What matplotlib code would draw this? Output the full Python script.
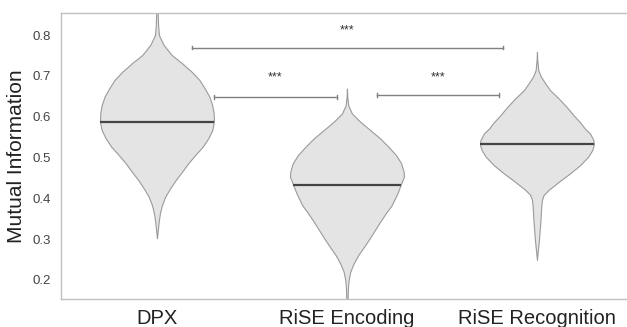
import numpy as np
import matplotlib
matplotlib.use('Agg')
from matplotlib import pyplot as plt

plt.rcParams['font.family'] = ['Liberation Sans', 'DejaVu Sans']

groups = ['DPX', 'RiSE Encoding', 'RiSE Recognition']
medians = [0.588, 0.432, 0.532]

# violin outlines: value, relative half-width
dpx_y = [0.90, 0.857, 0.825, 0.80, 0.776, 0.751, 0.731, 0.710, 0.690, 0.669, 0.649, 0.628, 0.608,
         0.588, 0.567, 0.547, 0.526, 0.506, 0.486, 0.465, 0.445, 0.424, 0.404, 0.383, 0.363,
         0.342, 0.322, 0.302]
dpx_w = [0.0, 0.012, 0.02, 0.035, 0.117, 0.26, 0.44, 0.61, 0.745, 0.84, 0.92, 0.97, 0.995,
         1.0, 0.97, 0.90, 0.80, 0.67, 0.55, 0.44, 0.33, 0.23, 0.145, 0.087, 0.052,
         0.03, 0.015, 0.0]

enc_y = [0.669, 0.649, 0.628, 0.608, 0.588, 0.567, 0.547, 0.526, 0.506, 0.486, 0.465, 0.453,
         0.432, 0.412, 0.383, 0.363, 0.342, 0.322, 0.302, 0.281, 0.261, 0.240, 0.220, 0.200,
         0.179, 0.155, 0.12]
enc_w = [0.0, 0.006, 0.023, 0.087, 0.23, 0.41, 0.58, 0.73, 0.86, 0.95, 0.995, 1.0,
         0.94, 0.885, 0.785, 0.68, 0.58, 0.49, 0.40, 0.30, 0.20, 0.117, 0.058, 0.03,
         0.017, 0.012, 0.0]

rec_y = [0.759, 0.739, 0.714, 0.698, 0.682, 0.665, 0.645, 0.624, 0.604, 0.584, 0.571, 0.559,
         0.543, 0.532, 0.518, 0.502, 0.481, 0.461, 0.440, 0.420, 0.408, 0.396, 0.379, 0.339,
         0.298, 0.273, 0.249]
rec_w = [0.0, 0.006, 0.023, 0.07, 0.145, 0.23, 0.38, 0.52, 0.64, 0.77, 0.84, 0.93,
         0.99, 1.0, 0.97, 0.90, 0.755, 0.58, 0.38, 0.20, 0.117, 0.087, 0.075, 0.058,
         0.035, 0.017, 0.0]

profiles = [(dpx_y, dpx_w), (enc_y, enc_w), (rec_y, rec_w)]

# significance brackets: (x start, x end, y, text y)
brackets = [(0.184, 1.821, 0.769, 0.812),
            (0.30, 0.947, 0.648, 0.695),
            (1.158, 1.80, 0.653, 0.695)]
stars = ['***', '***', '***']

fig = plt.figure(figsize=(6.27, 3.27), dpi=100)
ax = fig.add_axes([0.0973, 0.0856, 0.9027, 0.8744])

half = 0.30
for i, (yy, ww) in enumerate(profiles):
    yy = np.array(yy)
    ww = np.array(ww) * half
    ax.fill_betweenx(yy, i - ww, i + ww, facecolor='#e4e4e4', edgecolor='#9a9a9a', linewidth=0.8, zorder=2)
    mw = np.interp(medians[i], yy[::-1], ww[::-1])
    ax.hlines(medians[i], i - mw, i + mw, color='#444444', linewidth=1.6, zorder=3)

for (x0, x1, y, ty), s in zip(brackets, stars):
    ax.plot([x0, x1], [y, y], color='#808080', linewidth=1.0)
    ax.plot([x0, x0], [y - 0.004, y + 0.004], color='#808080', linewidth=1.0)
    ax.plot([x1, x1], [y - 0.004, y + 0.004], color='#808080', linewidth=1.0)
    ax.text((x0 + x1) / 2, ty, s, ha='center', va='center', fontsize=9, color='#333333')

ax.set_xlim(-0.505, 2.474)
ax.set_ylim(0.153, 0.854)
ax.set_xticks(range(len(groups)))
ax.set_xticklabels(groups, fontsize=14.5, color='#222222')
ax.set_yticks([0.2, 0.3, 0.4, 0.5, 0.6, 0.7, 0.8])
ax.tick_params(axis='y', labelsize=9.5, colors='#444444', length=0, pad=7)
ax.tick_params(axis='x', length=0, pad=7)
ax.set_ylabel('Mutual Information', fontsize=15, color='#222222', labelpad=5)
for side in ['left', 'top', 'bottom']:
    ax.spines[side].set_color('#c0c0c0')
    ax.spines[side].set_linewidth(1.0)
ax.spines['right'].set_visible(False)

fig.savefig('out.png', dpi=100)
